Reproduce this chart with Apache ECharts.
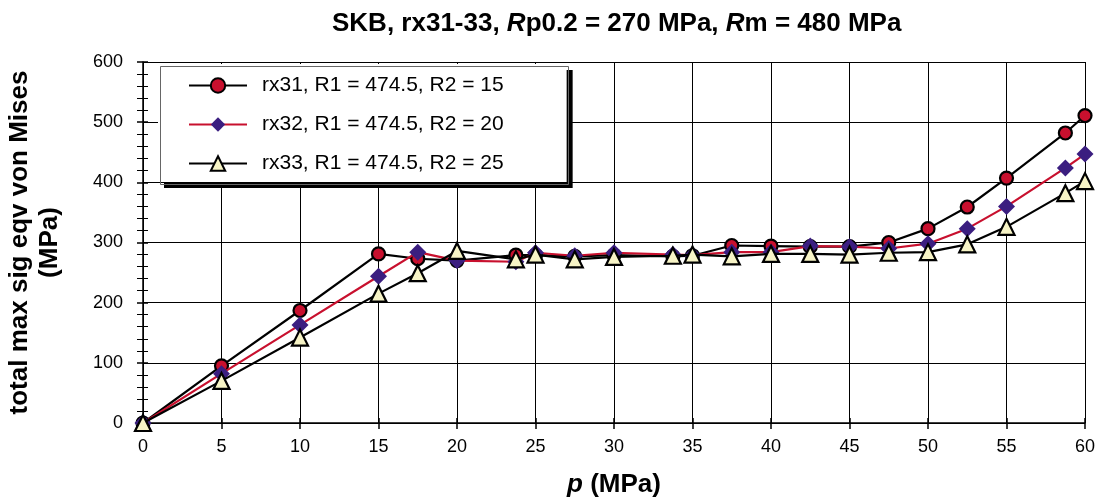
<!DOCTYPE html>
<html><head><meta charset="utf-8">
<script src="https://cdn.jsdelivr.net/npm/echarts@6/dist/echarts.min.js"></script>
<style>html,body{margin:0;padding:0;background:#fff}#c{width:1099px;height:499px}</style>
</head><body><div id="c"></div>
<script>
const pValues = [0,5,10,15,17.5,20,23.75,25,27.5,30,33.75,35,37.5,40,42.5,45,47.5,50,52.5,55,58.75,60];
const rx31 = [0,95,187,281,273,270,279,279,277,279,277,278,295,294,293,293,300,323,359,407,482,511];
const rx32 = [0,82,163,244,284,270,268,283,278,283,280,279,284,284,294,293,290,298,323,360,424,447];
const rx33 = [0,70,142,215,249,286,272,280,272,276,278,280,277,281,281,280,283,284,297,326,382,402];
const seriesNames = ['rx31, R1 = 474.5, R2 = 15','rx32, R1 = 474.5, R2 = 20','rx33, R1 = 474.5, R2 = 25'];
const xTicks = {min:0,max:60,interval:5};
const yTicks = {min:0,max:600,interval:100};

const pairs = ys => pValues.map((x,i)=>[x, ys[i]]);
const FONT = '"Liberation Sans", Arial, sans-serif';
const chart = echarts.init(document.getElementById('c'), null, {renderer:'canvas'});
const gridCfg = {left:143, right:14, top:62, bottom:76, outerBoundsMode:'none', containLabel:false};
const xBase = {type:'value', min:xTicks.min, max:xTicks.max, interval:xTicks.interval};
const yBase = {type:'value', min:yTicks.min, max:yTicks.max, interval:yTicks.interval};
chart.setOption({
  animation:false,
  backgroundColor:'#fff',
  title:{
    text:'{n|SKB, rx31-33, }{i|R}{n|p0.2 = 270 MPa, }{i|R}{n|m = 480 MPa}',
    left:327, top:6,
    textStyle:{rich:{
      n:{fontFamily:FONT,fontSize:26,fontWeight:'bold',color:'#000'},
      i:{fontFamily:FONT,fontSize:26,fontWeight:'bold',fontStyle:'italic',color:'#000'}
    }}
  },
  grid:gridCfg,
  graphic:[{
    type:'rect', left:158, top:64, z:100, silent:true,
    shape:{width:408, height:118},
    style:{fill:null, stroke:'#666', lineWidth:1}
  }],
  legend:{
    orient:'vertical', left:158, top:64,
    padding:[11,63,8,30],
    itemWidth:58, itemHeight:18, itemGap:18,
    backgroundColor:'#fff', borderWidth:0,
    shadowColor:'#000', shadowBlur:0, shadowOffsetX:6, shadowOffsetY:6,
    textStyle:{fontFamily:FONT,fontSize:21,lineHeight:21,color:'#000',padding:[0,0,0,10]},
    data:seriesNames
  },
  xAxis:[
    Object.assign({}, xBase, {
      name:'{i|p}{n| (MPa)}', nameLocation:'middle', nameGap:49,
      nameTextStyle:{rich:{
        i:{fontFamily:FONT,fontSize:26,fontWeight:'bold',fontStyle:'italic',color:'#000'},
        n:{fontFamily:FONT,fontSize:26,fontWeight:'bold',color:'#000'}}},
      axisLine:{show:true,lineStyle:{color:'#000',width:1.5}},
      axisTick:{show:true,length:6,lineStyle:{color:'#000',width:1.5}},
      axisLabel:{fontFamily:FONT,fontSize:18,color:'#000',margin:15},
      splitLine:{show:true,lineStyle:{color:'#000',width:1}}
    }),
    Object.assign({}, xBase, {
      position:'bottom', gridIndex:0,
      axisLine:{show:false}, axisLabel:{show:false},
      axisTick:{show:true,inside:true,length:5,lineStyle:{color:'#000',width:1.5}},
      splitLine:{show:false}
    })
  ],
  yAxis:[
    Object.assign({}, yBase, {
      name:'total max sig eqv von Mises\n(MPa)', nameLocation:'middle', nameGap:78,
      nameTextStyle:{fontFamily:FONT,fontSize:26,fontWeight:'bold',color:'#000',lineHeight:30},
      axisLine:{show:true,lineStyle:{color:'#000',width:1.5}},
      axisTick:{show:true,length:6,lineStyle:{color:'#000',width:1.5}},
      minorTick:{show:true,splitNumber:5,length:6,lineStyle:{color:'#000',width:1}},
      axisLabel:{fontFamily:FONT,fontSize:18,color:'#000',margin:20},
      splitLine:{show:true,lineStyle:{color:'#000',width:1}}
    }),
    Object.assign({}, yBase, {
      position:'left',
      axisLine:{show:false}, axisLabel:{show:false},
      axisTick:{show:true,inside:true,length:5,lineStyle:{color:'#000',width:1.5}},
      minorTick:{show:true,splitNumber:5,length:5,lineStyle:{color:'#000',width:1}},
      splitLine:{show:false}
    })
  ],
  series:[
    {name:seriesNames[0], type:'line', data:pairs(rx31), symbol:'circle', symbolSize:13,
     lineStyle:{color:'#000',width:2.2}, itemStyle:{color:'#C8102E',borderColor:'#000',borderWidth:2.2}, z:2},
    {name:seriesNames[1], type:'line', data:pairs(rx32), symbol:'diamond', symbolSize:17,
     lineStyle:{color:'#C8102E',width:2.2}, itemStyle:{color:'#3B1E80',borderColor:'#3B1E80',borderWidth:0}, z:3},
    {name:seriesNames[2], type:'line', data:pairs(rx33), symbol:'triangle', symbolSize:16,
     lineStyle:{color:'#000',width:2.2}, itemStyle:{color:'#F7F4C6',borderColor:'#000',borderWidth:2.2}, z:4}
  ]
});
</script></body></html>
